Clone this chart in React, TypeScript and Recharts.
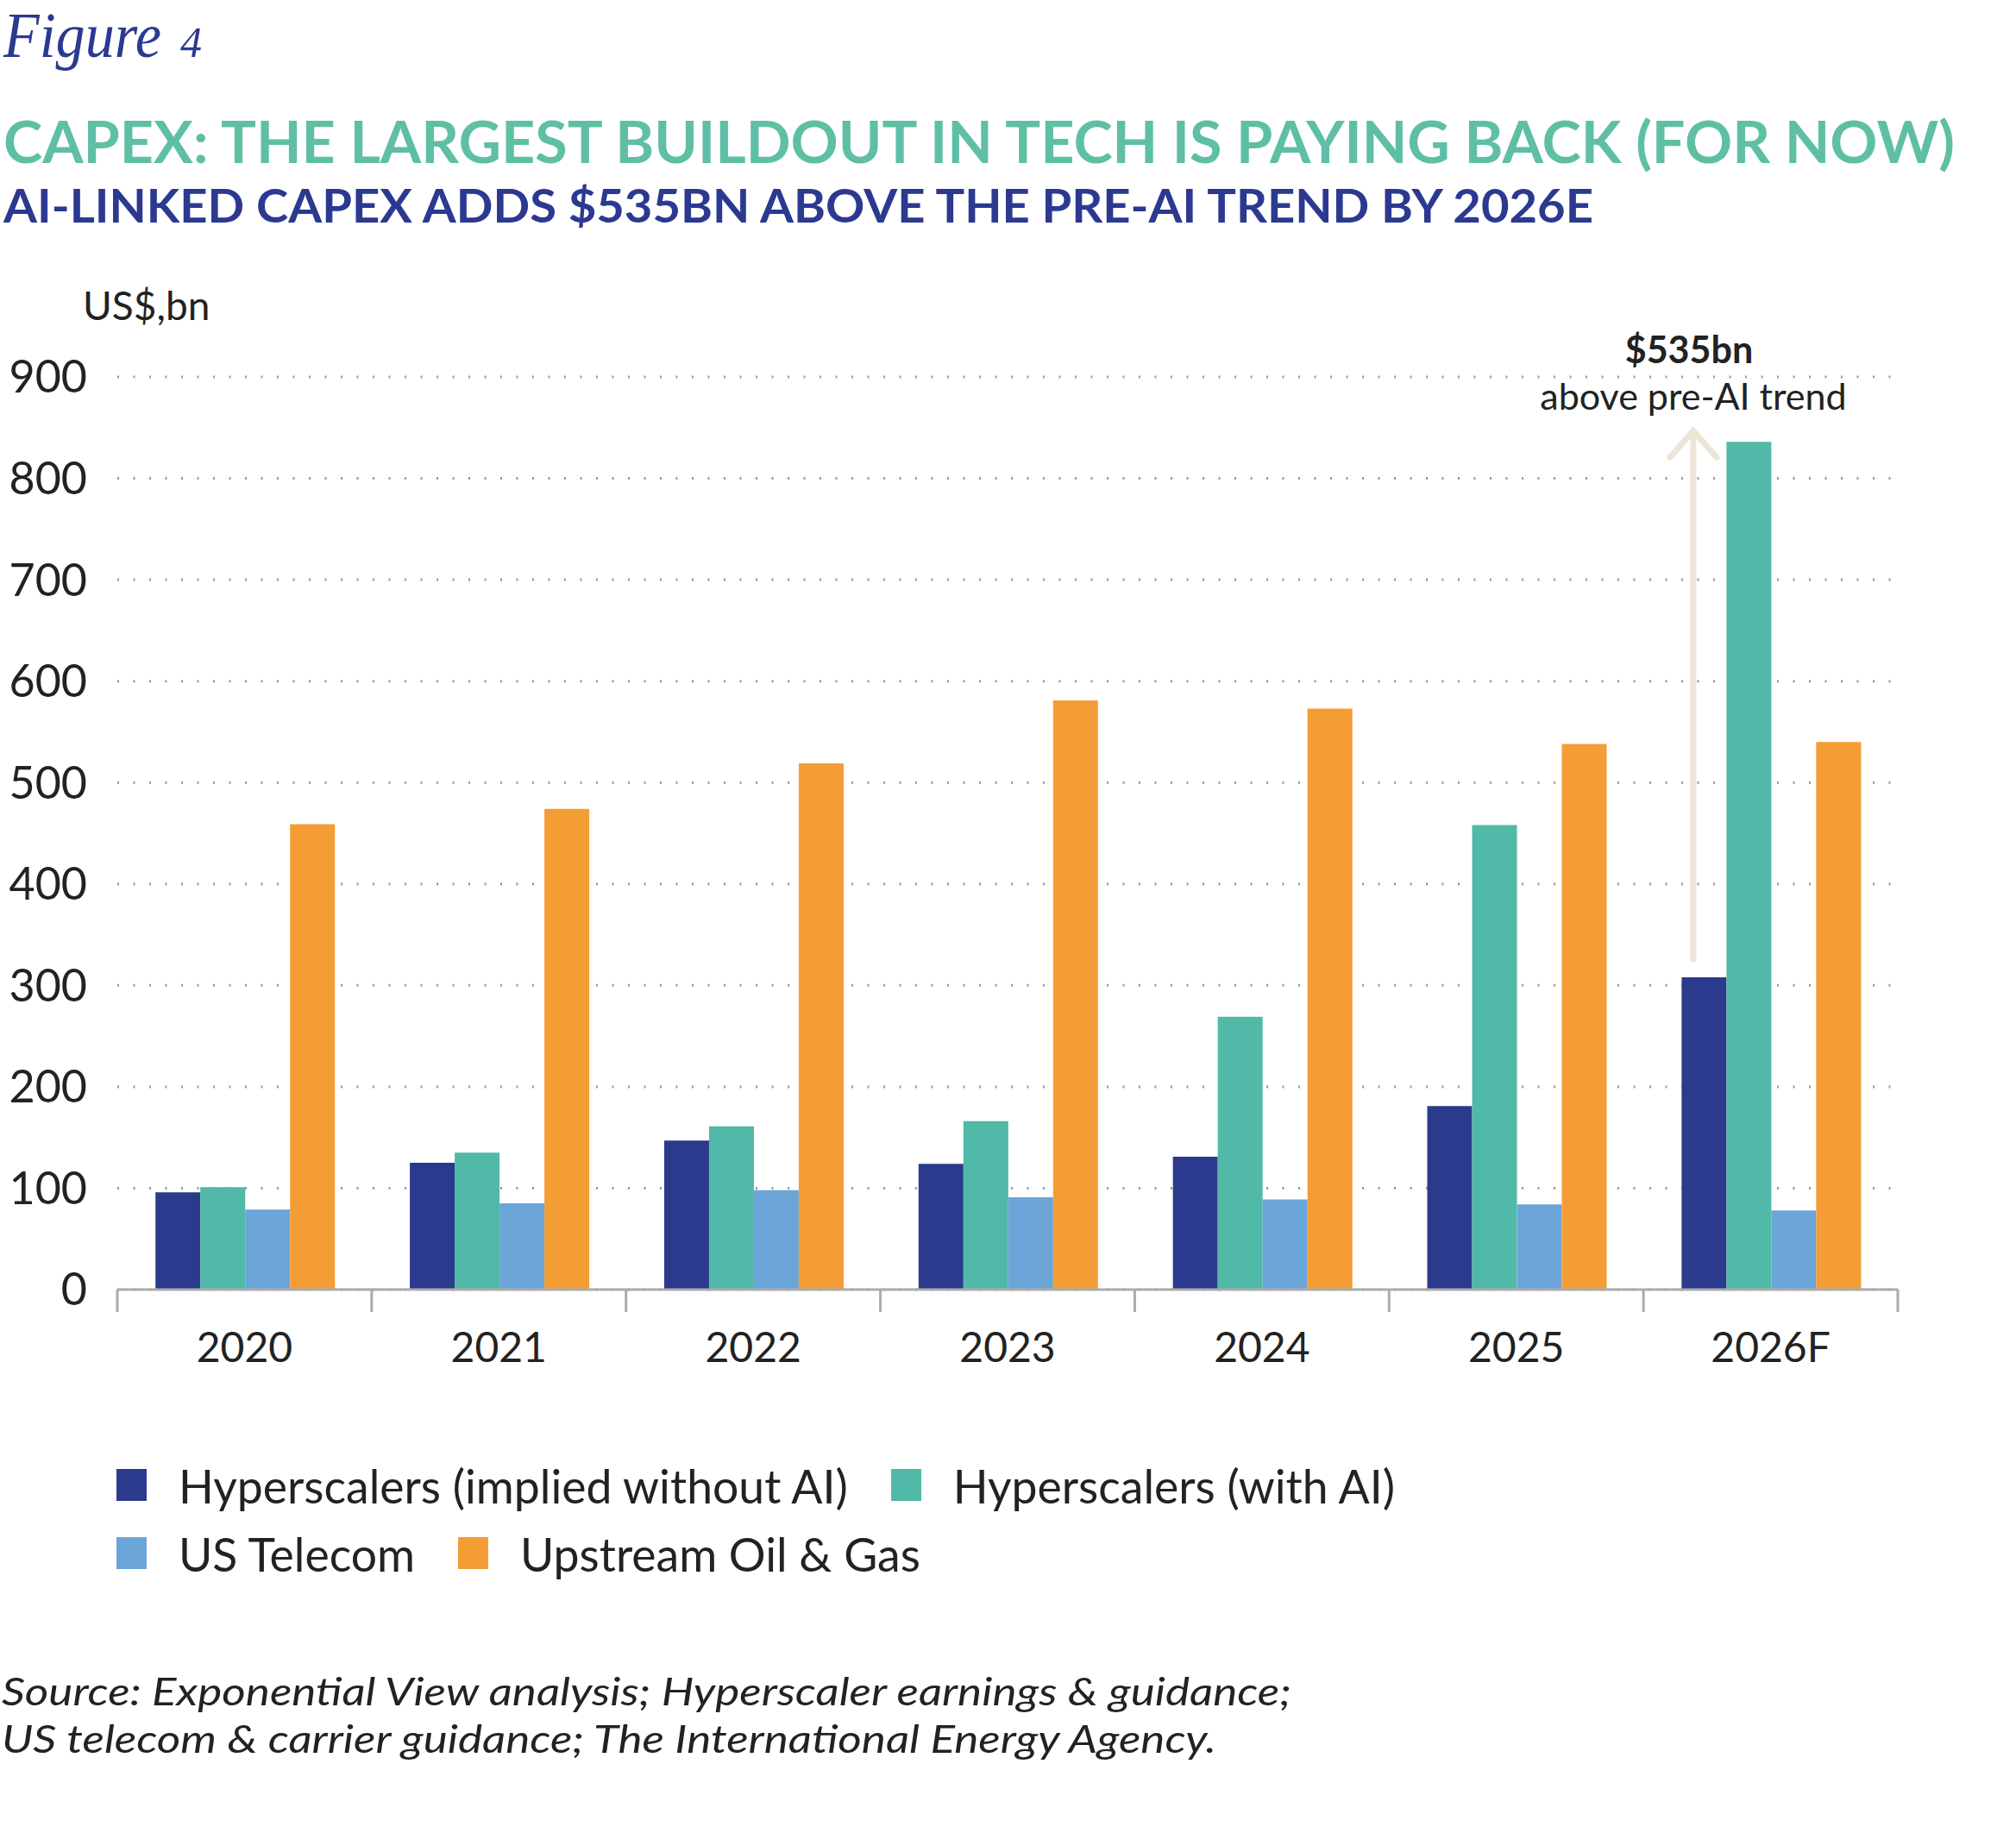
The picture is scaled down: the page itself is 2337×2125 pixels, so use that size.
import React from 'react';
import { BarChart, Bar, XAxis, YAxis, CartesianGrid, Legend, ReferenceLine } from 'recharts';

const W = 2337;
const H = 2125;
const FONT = 'Lato, "Open Sans", sans-serif';
const SERIF = '"Liberation Serif", "DejaVu Serif", serif';
const NAVY = '#2b3990';
const TEAL = '#5fbfa5';
const INK = '#222222';
const AXIS = '#ababab';

// values in US$ bn
const YEARS = ['2020', '2021', '2022', '2023', '2024', '2025', '2026F'];
const HYPERSCALERS_NO_AI = [96, 125, 147, 124, 131, 181, 308];
const HYPERSCALERS_AI = [101, 135, 161, 166, 269, 458, 836];
const US_TELECOM = [79, 85, 98, 91, 89, 84, 78];
const OIL_GAS = [459, 474, 519, 581, 573, 538, 540];
const Y_TICKS = [0, 100, 200, 300, 400, 500, 600, 700, 800, 900];

// arrow for the gap above pre-AI trend in 2026F
const ARROW_YEAR = '2026F';
const ARROW_BASE = 326;
const ARROW_TIP = 847;

const SERIES = [
  { key: 'noAi', name: 'Hyperscalers (implied without AI)', color: '#2b3a8c', values: HYPERSCALERS_NO_AI },
  { key: 'ai', name: 'Hyperscalers (with AI)', color: '#50b9a7', values: HYPERSCALERS_AI },
  { key: 'telecom', name: 'US Telecom', color: '#6ca5d8', values: US_TELECOM },
  { key: 'oil', name: 'Upstream Oil & Gas', color: '#f49d35', values: OIL_GAS },
];

const data = YEARS.map((year, i) => {
  const row: Record<string, string | number> = { year };
  SERIES.forEach((s) => {
    row[s.key] = s.values[i];
  });
  return row;
});

// plot box
const PLOT_LEFT = 136;
const PLOT_RIGHT = 2200;
const PLOT_TOP = 437;
const PLOT_BOTTOM = 1495;
const X_AXIS_H = 100;
const X_TICK_MARGIN = 50;
const BAND = (PLOT_RIGHT - PLOT_LEFT) / YEARS.length;

function XTick(props: any) {
  const { x, y, payload, index } = props;
  const axisY = y - X_TICK_MARGIN;
  return (
    <g>
      {index === 0 && (
        <line x1={x - BAND / 2} x2={x - BAND / 2} y1={axisY} y2={axisY + 26} stroke={AXIS} strokeWidth={3} />
      )}
      <line x1={x + BAND / 2} x2={x + BAND / 2} y1={axisY} y2={axisY + 26} stroke={AXIS} strokeWidth={3} />
      <text x={x} y={y} dy="0.71em" textAnchor="middle" fontFamily={FONT} fontSize={48} fill={INK}>
        {payload.value}
      </text>
    </g>
  );
}

function ArrowShape(props: any) {
  const { x1, y1, y2 } = props;
  const x = x1 - 0.304 * BAND;
  const tipY = Math.min(y1, y2);
  const baseY = Math.max(y1, y2);
  const stroke = '#ebe6d6';
  return (
    <g>
      <line x1={x} x2={x} y1={baseY} y2={tipY + 2} stroke={stroke} strokeWidth={7} strokeLinecap="round" />
      <polyline
        points={`${x - 27},${tipY + 31} ${x},${tipY} ${x + 27},${tipY + 31}`}
        fill="none"
        stroke={stroke}
        strokeWidth={7}
        strokeLinecap="round"
      />
      <text x={x - 5} y={tipY - 78} textAnchor="middle" fontFamily={FONT} fontWeight={700} fontSize={43} fill={INK}>
        $535bn
      </text>
      <text x={x} y={tipY - 24} textAnchor="middle" fontFamily={FONT} fontSize={43} fill={INK}>
        above pre-AI trend
      </text>
    </g>
  );
}

function LegendContent(props: any) {
  const items = props.payload || [];
  const rows = [items.slice(0, 2), items.slice(2)];
  return (
    <div style={{ fontFamily: FONT }}>
      {rows.map((row: any[], r: number) => (
        <div key={r} style={{ display: 'flex', alignItems: 'center', height: 79 }}>
          {row.map((item: any) => (
            <div key={item.value} style={{ display: 'flex', alignItems: 'center', marginRight: 50 }}>
              <span style={{ display: 'inline-block', width: 35, height: 37, background: item.color, marginRight: 37 }} />
              <span style={{ fontSize: 53.5, color: INK, whiteSpace: 'nowrap' }}>{item.value}</span>
            </div>
          ))}
        </div>
      ))}
    </div>
  );
}

export default function App() {
  return (
    <div style={{ position: 'absolute', left: 0, top: 0, width: W, height: H, background: '#fff' }}>
      <svg width={W} height={400} style={{ position: 'absolute', left: 0, top: 0 }}>
        <text x={4} y={66} fontFamily={SERIF} fontStyle="italic" fontSize={74} fill={NAVY} textLength={183} lengthAdjust="spacingAndGlyphs">
          Figure
        </text>
        <text x={209} y={66} fontFamily={SERIF} fontStyle="italic" fontSize={50} fill={NAVY}>
          4
        </text>
        <text x={4} y={189} fontFamily={FONT} fontWeight={700} fontSize={67} fill={TEAL} textLength={2262} lengthAdjust="spacingAndGlyphs">
          CAPEX: THE LARGEST BUILDOUT IN TECH IS PAYING BACK (FOR NOW)
        </text>
        <text x={4} y={258} fontFamily={FONT} fontWeight={700} fontSize={54} fill={NAVY} textLength={1843} lengthAdjust="spacingAndGlyphs">
          AI-LINKED CAPEX ADDS $535BN ABOVE THE PRE-AI TREND BY 2026E
        </text>
        <text x={96} y={371} fontFamily={FONT} fontSize={46} fill={INK}>
          US$,bn
        </text>
      </svg>

      <div style={{ position: 'absolute', left: 0, top: 0 }}>
        <BarChart
          width={W}
          height={H}
          data={data}
          barCategoryGap="15%"
          barGap={0}
          margin={{ top: PLOT_TOP, right: W - PLOT_RIGHT, left: 0, bottom: H - PLOT_BOTTOM - X_AXIS_H }}
        >
          <CartesianGrid vertical={false} stroke="#9a9a9a" strokeWidth={3} strokeDasharray="2 16.5" />
          <XAxis
            dataKey="year"
            height={X_AXIS_H}
            axisLine={{ stroke: AXIS, strokeWidth: 3 }}
            tickLine={false}
            tickSize={0}
            tickMargin={X_TICK_MARGIN}
            tick={<XTick />}
            interval={0}
          />
          <YAxis
            width={PLOT_LEFT}
            domain={[0, 900]}
            ticks={Y_TICKS}
            axisLine={false}
            tickLine={false}
            tickSize={0}
            tickMargin={35}
            tick={{ fontFamily: FONT, fontSize: 52, fill: INK }}
          />
          {SERIES.map((s) => (
            <Bar key={s.key} dataKey={s.key} name={s.name} fill={s.color} isAnimationActive={false} />
          ))}
          <ReferenceLine
            segment={[
              { x: ARROW_YEAR, y: ARROW_BASE },
              { x: ARROW_YEAR, y: ARROW_TIP },
            ]}
            shape={ArrowShape}
          />
          <Legend
            layout="horizontal"
            verticalAlign="middle"
            content={<LegendContent />}
            wrapperStyle={{ left: 135, top: 1682, width: 1700 }}
          />
        </BarChart>
      </div>

      <svg width={W} height={200} style={{ position: 'absolute', left: 0, top: 1900 }}>
        <text x={2} y={77} fontFamily={FONT} fontStyle="italic" fontSize={44} fill={INK} textLength={1495} lengthAdjust="spacingAndGlyphs">
          Source: Exponential View analysis; Hyperscaler earnings &amp; guidance;
        </text>
        <text x={2} y={132} fontFamily={FONT} fontStyle="italic" fontSize={44} fill={INK} textLength={1408} lengthAdjust="spacingAndGlyphs">
          US telecom &amp; carrier guidance; The International Energy Agency.
        </text>
      </svg>
    </div>
  );
}
